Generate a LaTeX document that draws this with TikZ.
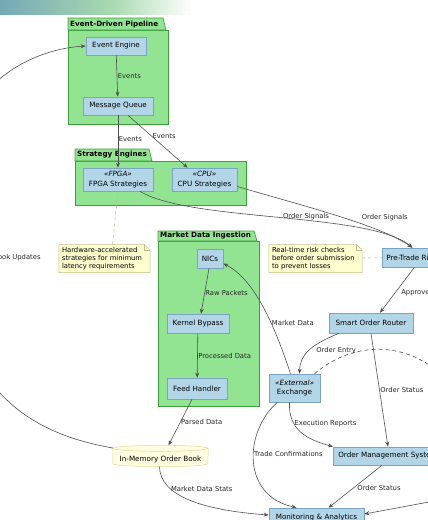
\documentclass[tikz,border=0pt]{standalone}
\usepackage{fontspec}
\setmainfont{DejaVu Sans}
\usetikzlibrary{arrows.meta,positioning,backgrounds}
\definecolor{barA}{HTML}{74A9B6}
\definecolor{barB}{HTML}{A9D9B0}
\definecolor{pkgfill}{HTML}{92E492}
\definecolor{pkgline}{HTML}{3F9F3F}
\definecolor{boxfill}{HTML}{B3D5E8}
\definecolor{boxline}{HTML}{7BA3C4}
\definecolor{notefill}{HTML}{FEFECE}
\definecolor{noteline}{HTML}{C4BC8C}
\definecolor{dbfill}{HTML}{FEFDE0}
\definecolor{dbline}{HTML}{E0D89A}
\definecolor{edgeline}{HTML}{505050}

\begin{document}
\begin{tikzpicture}[x=1pt,y=-1pt,
  comp/.style={draw=boxline,fill=boxfill,line width=0.6pt,font=\fontsize{7.2}{9.5}\selectfont,align=center,inner sep=0pt},
  pkg/.style={draw=pkgline,fill=pkgfill,line width=0.7pt},
  pkgname/.style={font=\fontsize{7.2}{8}\selectfont\bfseries,anchor=west,inner sep=0pt},
  note/.style={fill=notefill,minimum height=28pt,inner sep=0pt,align=left,font=\fontsize{6.8}{8}\selectfont},
  noteedge/.style={draw=noteline,line width=0.5pt},
  lbl/.style={font=\fontsize{6.8}{8}\selectfont,inner sep=0.5pt,text=black!85},
  flow/.style={draw=edgeline,line width=0.6pt,-{Stealth[length=5pt,width=4pt]}},
  notelink/.style={draw=noteline,line width=0.6pt,dashed},
]
\useasboundingbox (0,0) rectangle (428,520);
\shade[left color=barA,right color=barB] (0,0) rectangle (112,14);
\shade[left color=barB,right color=white] (112,0) rectangle (192,14);

\draw[pkg] (68,30) rectangle (168,124);
\draw[pkg] (68,30) -- (68,18) -- (163,18) -- (166,30) -- cycle;
\node[pkgname] (pipeline) at (70,24.5) {Event-Driven Pipeline};
\draw[pkg] (75,161) rectangle (246,205);
\draw[pkg] (75,161) -- (75,149) -- (149,149) -- (152,161) -- cycle;
\node[pkgname] (strategies) at (77,155) {Strategy Engines};
\draw[pkg] (158,241) rectangle (259,406);
\draw[pkg] (158,241) -- (158,231) -- (254,231) -- (257,241) -- cycle;
\node[pkgname] (ingestion) at (160,236) {Market Data Ingestion};

\node[comp,minimum width=60pt,minimum height=18pt] (engine) at (116,46) {Event Engine};
\node[comp,minimum width=70pt,minimum height=18pt] (queue) at (118,106) {Message Queue};
\node[comp,minimum width=70pt,minimum height=23pt] (fpga) at (118,179.5) {\textit{«FPGA»}\\FPGA Strategies};
\node[comp,minimum width=65pt,minimum height=23pt] (cpu) at (204.5,179.5) {\textit{«CPU»}\\CPU Strategies};
\node[comp,minimum width=26pt,minimum height=19pt] (nics) at (210,258.5) {NICs};
\node[comp,minimum width=62pt,minimum height=19pt] (bypass) at (198,323.5) {Kernel Bypass};
\node[comp,minimum width=60pt,minimum height=21pt] (feed) at (197,388.5) {Feed Handler};
\node[comp,minimum width=51pt,minimum height=28pt] (exchange) at (294.5,388) {\textit{«External»}\\Exchange};
\node[comp,minimum width=84pt,minimum height=20pt] (router) at (371,323) {Smart Order Router};
\node[comp,minimum height=19pt,inner xsep=4pt,anchor=west] (risk) at (382,257.5) {Pre-Trade Risk};
\node[comp,minimum height=18pt,inner xsep=5pt,anchor=west] (oms) at (333,456) {Order Management System};
\node[comp,minimum width=95pt,minimum height=20pt] (monitor) at (316.5,518) {Monitoring \& Analytics};
\node[font=\fontsize{7.2}{8}\selectfont,minimum width=95pt,inner sep=0pt] (book) at (160.5,460) {In-Memory Order Book};
\begin{scope}[on background layer]
\draw[draw=dbline,fill=dbfill,line width=0.5pt] ([yshift=8pt]book.north west) -- (book.south west) arc[start angle=180,end angle=360,x radius=47.5pt,y radius=3pt] -- ([yshift=8pt]book.north east);
\draw[draw=dbline,fill=dbfill,line width=0.5pt] ([yshift=8pt]book.north) ellipse[x radius=47.5pt,y radius=3pt];
\end{scope}

\node[note,minimum width=91pt,text width=85pt] (hwnote) at (104.5,258.5) {Hardware-accelerated\\strategies for minimum\\latency requirements};
\node[note,minimum width=93pt,text width=87pt] (risknote) at (315.5,258.5) {Real-time risk checks\\before order submission\\to prevent losses};
\foreach \n in {hwnote,risknote}{
  \fill[white] ([xshift=-6pt]\n.north east) -- (\n.north east) -- ([yshift=-6pt]\n.north east) -- cycle;
  \draw[noteedge] (\n.north west) -- ([xshift=-6pt]\n.north east) -- ([yshift=-6pt]\n.north east) -- (\n.south east) -- (\n.south west) -- cycle;
  \draw[noteedge] ([xshift=-6pt]\n.north east) |- ([yshift=-6pt]\n.north east);
}

\coordinate (offright) at (450,385);
\coordinate (offmon) at (445,499);
\coordinate (bookbend) at (-55,250);

\draw[flow] (engine) -- node[lbl,right] {Events} (queue);
\draw[flow] (queue) -- node[lbl,right,pos=0.45] {Events} (fpga);
\draw[flow] ([xshift=10pt]queue.south) -- node[lbl,right,pos=0.4] {Events} ([xshift=-17pt]cpu.north);
\draw[flow] ([xshift=22pt]fpga.south) .. controls (190,222) and (370,212) .. node[lbl,above,pos=0.58] {Order Signals} ([xshift=1pt]risk.north);
\draw[flow] ([yshift=-7pt]cpu.east) .. controls (300,205) and (380,225) .. node[lbl,above=11pt,pos=0.78] {Order Signals} ([xshift=1pt]risk.north);
\draw[notelink] ([xshift=8pt]hwnote.north) -- (fpga.south);
\draw[notelink] (risknote) -- (risk);
\draw[flow] ([xshift=3pt]risk.south) -- node[lbl,right=5pt,pos=0.55] {Approved} ([xshift=9pt]router.north);
\draw[flow] ([xshift=-4pt]exchange.north) .. controls (276,330) and (256,280) .. node[lbl,right,pos=0.38] {Market Data} ([yshift=-5pt]nics.east);
\draw[flow] ([xshift=-1pt]nics.south) -- node[lbl,right,pos=0.55] {Raw Packets} ([xshift=3pt]bypass.north);
\draw[flow] (bypass) -- node[lbl,right] {Processed Data} (feed);
\draw[flow] ([xshift=-5pt]feed.south) -- node[lbl,right,pos=0.5] {Parsed Data} ([xshift=8pt,yshift=11pt]book.north);
\draw[flow] ([yshift=12pt]book.west) .. controls (40,435) and (-40,400) .. (bookbend) node[lbl,xshift=72pt,yshift=-8pt] {Book Updates} .. controls (-70,100) and (20,50) .. (engine.west);
\draw[flow] ([xshift=-1pt,yshift=-3pt]book.south) .. controls (160,495) and (200,510) .. node[lbl,right,pos=0.3] {Market Data Stats} ([yshift=3pt]monitor.west);
\draw[flow] ([xshift=-32pt]router.south) .. controls (310,345) and (300,355) .. node[lbl,right=7pt,pos=0.5] {Order Entry} ([xshift=5pt]exchange.north);
\draw[draw=edgeline,line width=0.6pt,dash pattern=on 4pt off 3pt] ([xshift=20pt]exchange.north) .. controls (360,335) and (420,345) .. (offright);
\draw[flow] (router.south) -- node[lbl,right,pos=0.5] {Order Status} (oms.north);
\draw[flow] ([xshift=-5pt]exchange.south) .. controls (288,432) and (310,440) .. node[lbl,right,pos=0.3] {Execution Reports} (oms.north west);
\draw[flow] ([xshift=-17pt]exchange.south) .. controls (245,430) and (240,495) .. node[lbl,right,pos=0.45] {Trade Confirmations} ([xshift=-20pt]monitor.north);
\draw[flow] ([xshift=-6pt]oms.south) -- node[lbl,right=3pt,pos=0.53] {Order Status} ([xshift=12pt]monitor.north);
\draw[flow] (offmon) -- ([yshift=4pt]monitor.east);
\end{tikzpicture}
\end{document}
